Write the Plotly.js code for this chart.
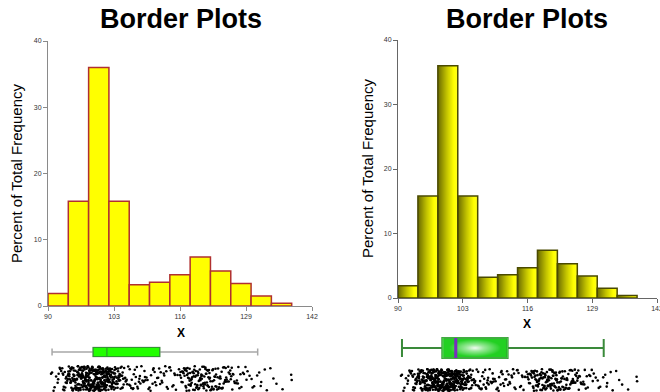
<!DOCTYPE html>
<html><head><meta charset="utf-8">
<script src="https://cdn.plot.ly/plotly-3.0.1.min.js"></script>
<style>html,body{margin:0;padding:0;background:#fff;}#chart{width:660px;height:392px;}</style>
</head><body><div id="chart"></div>
<script>
// ---- data ----
const binStarts = [90, 94, 98, 102, 106, 110, 114, 118, 122, 126, 130, 134];
const binWidth = 4;
const percents = [1.9, 15.8, 36.0, 15.8, 3.2, 3.6, 4.7, 7.4, 5.3, 3.4, 1.5, 0.4];
const xTicks = [90, 103, 116, 129, 142];
const yTicks = [0, 10, 20, 30, 40];
const boxLowerFence = [90.8];
const boxQ1 = [98.9];
const boxMedian = [101.6];
const boxQ3 = [112.0];
const boxUpperFence = [131.3];
const stripX = [
97.3,101.8,94.6,99.2,103.5,92.8,100.4,96.1,104.7,98.9,102.2,95.4,99.7,93.9,101.1,97.8,105.3,100.9,96.6,98.2,
102.9,94.1,99.5,103.1,97.0,100.0,95.8,101.5,92.3,98.6,104.2,96.9,99.9,102.6,93.5,100.7,97.5,105.8,98.0,101.3,
95.1,99.0,103.8,96.3,100.2,94.4,98.4,102.0,97.6,104.9,99.4,93.2,101.7,96.0,100.6,98.7,103.3,95.7,99.8,102.4,
97.1,100.1,94.9,98.1,101.9,96.4,104.4,99.3,92.6,100.8,97.9,103.0,95.2,99.6,101.4,98.5,96.8,102.7,94.0,100.3,
98.8,103.6,96.2,99.1,101.0,95.5,97.4,102.1,93.7,100.5,98.3,104.0,96.7,99.2,101.6,97.2,105.1,94.8,100.0,102.8,
96.5,99.7,103.4,98.0,101.2,94.3,97.7,100.9,95.9,102.3,99.0,93.0,101.8,96.1,98.6,104.6,100.4,97.0,99.5,102.5,
95.0,98.2,101.0,96.9,103.7,99.3,94.7,100.6,97.3,102.0,98.9,105.5,96.3,99.9,101.5,93.4,100.2,97.6,103.2,98.4,
100.7,96.0,99.1,102.9,94.5,98.7,101.3,97.5,104.3,99.6,95.3,100.1,102.6,96.8,98.1,92.1,101.9,97.9,99.4,103.9,
97.2,100.8,95.6,99.8,102.2,98.3,94.2,101.1,96.4,103.1,99.0,97.7,100.3,95.8,104.8,98.5,101.7,93.6,99.2,102.1,
98.0,96.2,100.5,103.5,97.4,99.6,94.9,101.4,98.8,102.4,95.4,100.0,97.1,104.1,99.3,96.6,101.8,93.8,98.6,100.9,
101.2,97.8,99.9,95.7,102.7,98.2,100.6,94.6,103.0,96.5,99.4,101.0,97.3,105.0,98.9,95.0,100.2,102.3,96.9,99.7,
90.8,91.3,91.6,91.9,92.4,91.1,92.0,90.6,
106.2,107.5,108.9,106.8,110.3,112.1,107.1,109.4,113.6,111.0,106.5,108.2,114.5,110.8,107.9,112.9,115.2,109.0,106.0,111.7,
113.1,108.6,114.9,110.0,107.3,112.5,115.8,109.8,106.9,111.3,113.9,108.0,114.2,110.6,115.5,107.7,112.2,109.2,113.4,111.9,
116.3,118.7,121.2,119.5,123.8,117.1,120.4,125.3,118.0,122.6,116.9,127.1,119.9,121.7,124.4,117.6,120.9,126.2,118.4,122.1,
129.3,116.5,119.2,123.2,121.0,117.9,125.8,120.1,118.9,124.0,127.7,116.1,122.9,119.6,121.5,126.8,117.4,120.6,123.5,118.2,
128.4,119.0,121.9,124.7,117.2,120.2,125.0,122.4,118.6,130.1,116.7,119.4,123.0,121.3,126.5,117.8,120.8,124.2,118.1,122.7,
128.9,119.8,121.1,125.6,117.0,123.6,120.0,127.4,118.5,122.3,116.0,124.9,119.3,121.8,126.0,117.5,120.5,129.7,123.3,118.8,
122.0,125.1,119.1,121.4,127.9,117.3,120.3,124.5,118.3,123.9,130.6,116.4,126.4,119.7,122.5,128.1,121.6,117.7,125.5,120.7,
131.2,132.0,131.6,133.1,134.4,132.7,135.0,137.9,131.9,133.8,138.0,136.2,
99.8,96.7,102.5,94.2,100.3,97.9,103.9,98.1,95.6,101.6,99.0,104.5,96.0,100.7,93.3,98.7,102.0,97.4,101.1,95.3,
100.9,98.4,94.8,103.2,97.0,99.5,101.9,96.3,104.0,98.9,92.9,100.1,97.7,102.8,95.9,99.3,101.4,96.6,105.6,98.2,
97.5,101.3,99.1,95.1,102.6,98.6,100.4,94.1,103.4,96.9,99.9,97.2,101.8,93.1,100.6,98.0,104.3,96.4,99.6,102.1,
95.8,100.0,97.6,103.7,99.4,94.5,101.2,98.3,96.2,102.9,100.8,97.0,105.2,99.2,95.5,101.5,98.8,93.9,100.2,96.8,
102.4,98.5,96.1,99.7,101.0,94.7,103.1,97.3,100.5,98.1,95.2,101.7,99.0,104.7,96.5,100.9,97.8,102.2,93.5,99.4,
98.6,101.4,95.7,100.3,97.1,103.6,99.8,94.0,102.0,96.3,100.6,98.2,104.2,97.5,101.1,95.0,99.1,102.7,96.9,100.0,
97.7,99.3,103.3,95.4,100.8,98.0,101.6,94.3,97.2,102.5,99.6,96.0,100.4,105.4,98.4,93.0,101.3,96.7,99.9,103.0,
100.1,96.4,98.9,102.3,94.9,99.5,101.9,97.4,104.6,98.6,95.8,100.7,97.0,103.8,99.2,96.2,101.0,98.3,94.4,102.8,
106.4,108.1,110.7,107.2,112.8,109.6,114.0,106.7,111.5,108.8,113.3,107.6,115.0,110.2,106.1,112.4,109.1,114.7,108.4,111.1,
117.2,120.6,123.1,118.9,121.8,125.9,119.4,122.8,116.6,124.3,120.0,127.5,118.1,121.2,123.7,117.6,126.7,119.9,122.2,120.4,
124.8,118.5,121.5,116.8,123.4,119.2,128.6,120.9,117.9,125.2,122.0,119.6,126.1,118.0,121.0,124.1,117.3,129.1,120.2,123.8,
119.0,122.6,125.6,118.3,121.7,117.0,124.6,120.7,127.2,119.5,123.0,116.2,121.3,126.3,118.7,122.4,120.1,125.0,117.8,130.3
];
const stripJitter = [
.42,.87,.13,.66,.29,.91,.05,.58,.74,.33,.19,.81,.47,.62,.08,.95,.38,.71,.24,.53,
.16,.69,.84,.31,.57,.02,.77,.45,.93,.21,.64,.36,.11,.88,.50,.27,.73,.98,.40,.14,
.60,.35,.79,.07,.52,.90,.18,.68,.44,.26,.85,.03,.56,.72,.30,.97,.12,.49,.83,.65,
.22,.76,.09,.54,.39,.92,.61,.17,.80,.34,.06,.70,.48,.25,.89,.43,.63,.15,.78,.37,
.94,.28,.59,.01,.75,.46,.20,.86,.32,.67,.10,.55,.82,.41,.23,.96,.51,.04,.71,.36,
.63,.19,.88,.44,.27,.79,.12,.57,.99,.35,.68,.06,.48,.85,.23,.61,.30,.92,.16,.74,
.40,.83,.07,.55,.29,.66,.93,.18,.51,.77,.02,.45,.87,.33,.62,.14,.96,.38,.70,.25,
.53,.11,.80,.47,.34,.91,.20,.64,.09,.73,.42,.86,.28,.58,.04,.69,.36,.97,.15,.60,
.31,.78,.05,.52,.90,.24,.67,.43,.13,.84,.37,.59,.01,.75,.49,.22,.94,.56,.10,.82,
.65,.26,.89,.39,.17,.72,.46,.03,.81,.54,.21,.98,.32,.68,.08,.50,.77,.41,.14,.87,
.27,.60,.95,.12,.44,.71,.35,.86,.06,.57,.83,.19,.48,.92,.24,.66,.03,.79,.39,.52,
.74,.15,.58,.33,.88,.01,.47,.69,.21,.96,.40,.11,.63,.28,.85,.54,.09,.76,.45,.30,
.18,.91,.37,.62,.05,.80,.25,.53,.99,.42,.70,.14,.56,.34,.87,.08,.67,.23,.94,.49,
.82,.29,.64,.10,.75,.43,.16,.90,.36,.59,.02,.78,.51,.20,.97,.38,.72,.06,.61,.31,
.46,.84,.13,.70,.26,.93,.55,.04,.79,.35,.62,.17,.88,.41,.68,.22,.99,.50,.11,.76,
.57,.07,.81,.32,.64,.19,.90,.45,.73,.27,.53,.95,.14,.60,.37,.83,.05,.48,.71,.24,
.89,.34,.66,.02,.58,.77,.21,.43,.96,.12,.69,.38,.84,.09,.52,.30,.75,.17,.63,.44,
.15,.72,.47,.92,.28,.61,.06,.85,.39,.54,.80,.23,.67,.01,.49,.94,.33,.58,.19,.78,
.68,.40,.87,.16,.55,.25,.97,.11,.62,.36,.74,.03,.50,.86,.29,.65,.20,.91,.44,.07,
.33,.71,.08,.59,.92,.26,.47,.81,.14,.65,.38,.97,.02,.54,.76,.21,.88,.43,.60,.11,
.79,.18,.52,.95,.30,.67,.05,.84,.41,.23,.70,.12,.58,.36,.99,.47,.15,.63,.27,.90,
.06,.55,.37,.82,.19,.73,.44,.98,.28,.61,.09,.86,.50,.17,.68,.32,.93,.04,.77,.45,
.64,.24,.89,.13,.57,.40,.78,.03,.66,.35,.91,.20,.53,.85,.07,.72,.29,.48,.96,.16,
.87,.42,.10,.69,.31,.94,.56,.22,.75,.01,.62,.39,.83,.14,.50,.27,.99,.60,.34,.08,
.25,.80,.46,.18,.97,.53,.11,.67,.36,.88,.04,.74,.43,.19,.62,.92,.30,.56,.81,.13,
.71,.05,.58,.34,.86,.22,.69,.47,.93,.15,.54,.28,.78,.40,.09,.65,.37,.96,.20,.51,
.48,.93,.17,.63,.02,.76,.39,.55,.12,.84,.26,.70,.06,.90,.45,.61,.18,.82,.33,.74,
.12,.60,.85,.29,.70,.44,.95,.08,.52,.36,.79,.17,.64,.01,.87,.41,.56,.23,.99,.35,
.90,.31,.66,.04,.49,.82,.21,.58,.77,.10,.43,.96,.27,.69,.15,.53,.38,.86,.07,.62,
.37,.77,.20,.91,.55,.13,.68,.33,.89,.46,.03,.72,.59,.24,.94,.11,.80,.45,.66,.28,
.57,.09,.74,.48,.16,.87,.30,.97,.42,.63,.19,.53,.84,.06,.71,.39,.25,.92,.50,.14
];
const titleText = 'Border Plots';
const xLabel = 'X';
const yLabel = 'Percent of Total Frequency';

// ---- gradient images ----
function barGradient() {
  const c = document.createElement('canvas'); c.width = 100; c.height = 10;
  const g = c.getContext('2d');
  const lg = g.createLinearGradient(0, 0, 100, 0);
  lg.addColorStop(0, '#6a6a00'); lg.addColorStop(0.45, '#c4c400');
  lg.addColorStop(0.8, '#ffff00'); lg.addColorStop(1, '#ffff20');
  g.fillStyle = lg; g.fillRect(0, 0, 100, 10);
  return c.toDataURL();
}
function boxGradient() {
  const c = document.createElement('canvas'); c.width = 200; c.height = 40;
  const g = c.getContext('2d');
  g.fillStyle = '#22d022'; g.fillRect(0, 0, 200, 40);
  g.save(); g.translate(100, 20); g.scale(1, 0.22);
  const rg = g.createRadialGradient(0, 0, 0, 0, 0, 80);
  rg.addColorStop(0, 'rgba(255,255,255,0.95)');
  rg.addColorStop(0.35, 'rgba(255,255,255,0.55)');
  rg.addColorStop(1, 'rgba(255,255,255,0)');
  g.fillStyle = rg; g.fillRect(-100, -100, 200, 200);
  g.restore();
  return c.toDataURL();
}
const barImg = barGradient();
const boxImg = boxGradient();

const W = 660, H = 392;
const px = v => v / W;
const py = v => (H - v) / H;

const leftBoxW = 0.75, rightBoxW = 1.43;

const traces = [
  {type: 'bar', x: binStarts, y: percents, width: binWidth, offset: 0,
   xaxis: 'x', yaxis: 'y',
   marker: {color: '#ffff00', line: {color: '#b03030', width: 1.5}}},
  {type: 'bar', x: binStarts, y: percents, width: binWidth, offset: 0,
   xaxis: 'x2', yaxis: 'y2',
   marker: {color: 'rgba(0,0,0,0)', line: {color: '#4a4a00', width: 1.5}}},
  {type: 'box', orientation: 'h', y: [0], q1: boxQ1, median: boxMedian, q3: boxQ3,
   lowerfence: boxLowerFence, upperfence: boxUpperFence, width: leftBoxW, whiskerwidth: 0.8,
   xaxis: 'x3', yaxis: 'y3', boxpoints: false,
   line: {color: '#a8a8a8', width: 1.5}, fillcolor: 'rgba(0,0,0,0)'},
  {type: 'box', orientation: 'h', y: [0], q1: boxQ1, median: boxMedian, q3: boxQ3,
   lowerfence: boxQ1, upperfence: boxQ3, width: leftBoxW, whiskerwidth: 0,
   xaxis: 'x3', yaxis: 'y3', boxpoints: false,
   line: {color: '#2f9a2f', width: 1.2}, fillcolor: '#22ff00'},
  {type: 'box', orientation: 'h', y: [0], q1: boxQ1, median: boxMedian, q3: boxQ3,
   lowerfence: boxLowerFence, upperfence: boxUpperFence, width: rightBoxW, whiskerwidth: 0.9,
   xaxis: 'x4', yaxis: 'y4', boxpoints: false,
   line: {color: '#3a8a3a', width: 2}, fillcolor: 'rgba(0,0,0,0)'},
  {type: 'box', orientation: 'h', y: [0], q1: boxQ1, median: boxQ1, q3: boxQ3,
   lowerfence: boxQ1, upperfence: boxQ3, width: rightBoxW, whiskerwidth: 0,
   xaxis: 'x4', yaxis: 'y4', boxpoints: false,
   line: {color: '#48d048', width: 1}, fillcolor: 'rgba(0,0,0,0)'},
  {type: 'box', orientation: 'h', y: [0], q1: boxMedian, median: boxMedian, q3: boxMedian,
   lowerfence: boxMedian, upperfence: boxMedian, width: rightBoxW, whiskerwidth: 0,
   xaxis: 'x4', yaxis: 'y4', boxpoints: false,
   line: {color: '#7a2cc0', width: 3}, fillcolor: 'rgba(0,0,0,0)'},
  {type: 'scatter', mode: 'markers', x: stripX, y: stripJitter, xaxis: 'x5', yaxis: 'y5',
   marker: {color: '#000', size: 2.6}},
  {type: 'scatter', mode: 'markers', x: stripX, y: stripJitter, xaxis: 'x6', yaxis: 'y6',
   marker: {color: '#000', size: 2.6}}
];

const images = binStarts.map((b, i) => ({
  source: barImg, xref: 'x2', yref: 'y2', x: b, y: percents[i],
  sizex: binWidth, sizey: percents[i], sizing: 'stretch',
  xanchor: 'left', yanchor: 'top', layer: 'below'
}));
images.push({source: boxImg, xref: 'x4', yref: 'y4', x: boxQ1[0], y: rightBoxW / 2,
  sizex: boxQ3[0] - boxQ1[0], sizey: rightBoxW, sizing: 'stretch',
  xanchor: 'left', yanchor: 'top', layer: 'below'});

const histX = (dom, anchor, lc) => ({domain: dom, range: [90, 142], anchor: anchor,
  showline: true, linecolor: lc, linewidth: 1, ticks: 'outside', ticklen: 4, tickcolor: lc,
  tickvals: xTicks, ticktext: xTicks.map(String), ticklabeloverflow: 'allow',
  tickfont: {size: 7, color: '#333', family: 'Arial, Liberation Sans'},
  showgrid: false, zeroline: false});
const histY = (dom, anchor, lc) => ({domain: dom, range: [0, 40], anchor: anchor,
  showline: true, linecolor: lc, linewidth: 1, ticks: 'outside', ticklen: 4, tickcolor: lc,
  tickvals: yTicks, ticktext: yTicks.map(String), tickfont: {size: 7, color: '#333', family: 'Arial, Liberation Sans'},
  showgrid: false, zeroline: false});
const hidden = (dom, range, anchor) => ({domain: dom, range: range, anchor: anchor, visible: false,
  showgrid: false, zeroline: false});

const leftDom = [px(48), px(312)];
const rightDom = [px(398), px(657)];

const layout = {
  width: W, height: H, margin: {l: 0, r: 0, t: 0, b: 0},
  paper_bgcolor: '#fff', plot_bgcolor: 'rgba(0,0,0,0)',
  showlegend: false, hovermode: false, boxmode: 'overlay',
  font: {family: 'Arial, Liberation Sans, sans-serif'},
  xaxis: histX(leftDom, 'y', '#8a8a8a'),
  yaxis: histY([py(306), py(41)], 'x', '#8a8a8a'),
  xaxis2: histX(rightDom, 'y2', '#666'),
  yaxis2: histY([py(298), py(40)], 'x2', '#666'),
  xaxis3: hidden(leftDom, [90, 142], 'y3'),
  yaxis3: hidden([py(364), py(340)], [-1, 1], 'x3'),
  xaxis4: hidden(rightDom, [90, 142], 'y4'),
  yaxis4: hidden([py(362), py(334)], [-1, 1], 'x4'),
  xaxis5: hidden(leftDom, [90, 142], 'y5'),
  yaxis5: hidden([0, py(365)], [-0.04, 1.04], 'x5'),
  xaxis6: hidden(rightDom, [90, 142], 'y6'),
  yaxis6: hidden([0, py(368)], [-0.0455, 1.0455], 'x6'),
  images: images,
  annotations: [
    {text: '<b>' + titleText + '</b>', xref: 'paper', yref: 'paper', x: px(181), y: py(19),
     showarrow: false, font: {size: 27, color: '#000'}, xanchor: 'center', yanchor: 'middle'},
    {text: '<b>' + titleText + '</b>', xref: 'paper', yref: 'paper', x: px(527), y: py(19),
     showarrow: false, font: {size: 27, color: '#000'}, xanchor: 'center', yanchor: 'middle'},
    {text: '<b>' + xLabel + '</b>', xref: 'paper', yref: 'paper', x: px(181), y: py(333),
     showarrow: false, font: {size: 12, color: '#000'}, xanchor: 'center', yanchor: 'middle'},
    {text: '<b>' + xLabel + '</b>', xref: 'paper', yref: 'paper', x: px(527), y: py(324),
     showarrow: false, font: {size: 12, color: '#000'}, xanchor: 'center', yanchor: 'middle'},
    {text: yLabel, xref: 'paper', yref: 'paper', x: px(16), y: py(174), textangle: -90,
     showarrow: false, font: {size: 15, color: '#000'}, xanchor: 'center', yanchor: 'middle'},
    {text: yLabel, xref: 'paper', yref: 'paper', x: px(367), y: py(169), textangle: -90,
     showarrow: false, font: {size: 15, color: '#000'}, xanchor: 'center', yanchor: 'middle'}
  ]
};

Plotly.newPlot('chart', traces, layout, {staticPlot: true, displayModeBar: false});
</script>
</body></html>
